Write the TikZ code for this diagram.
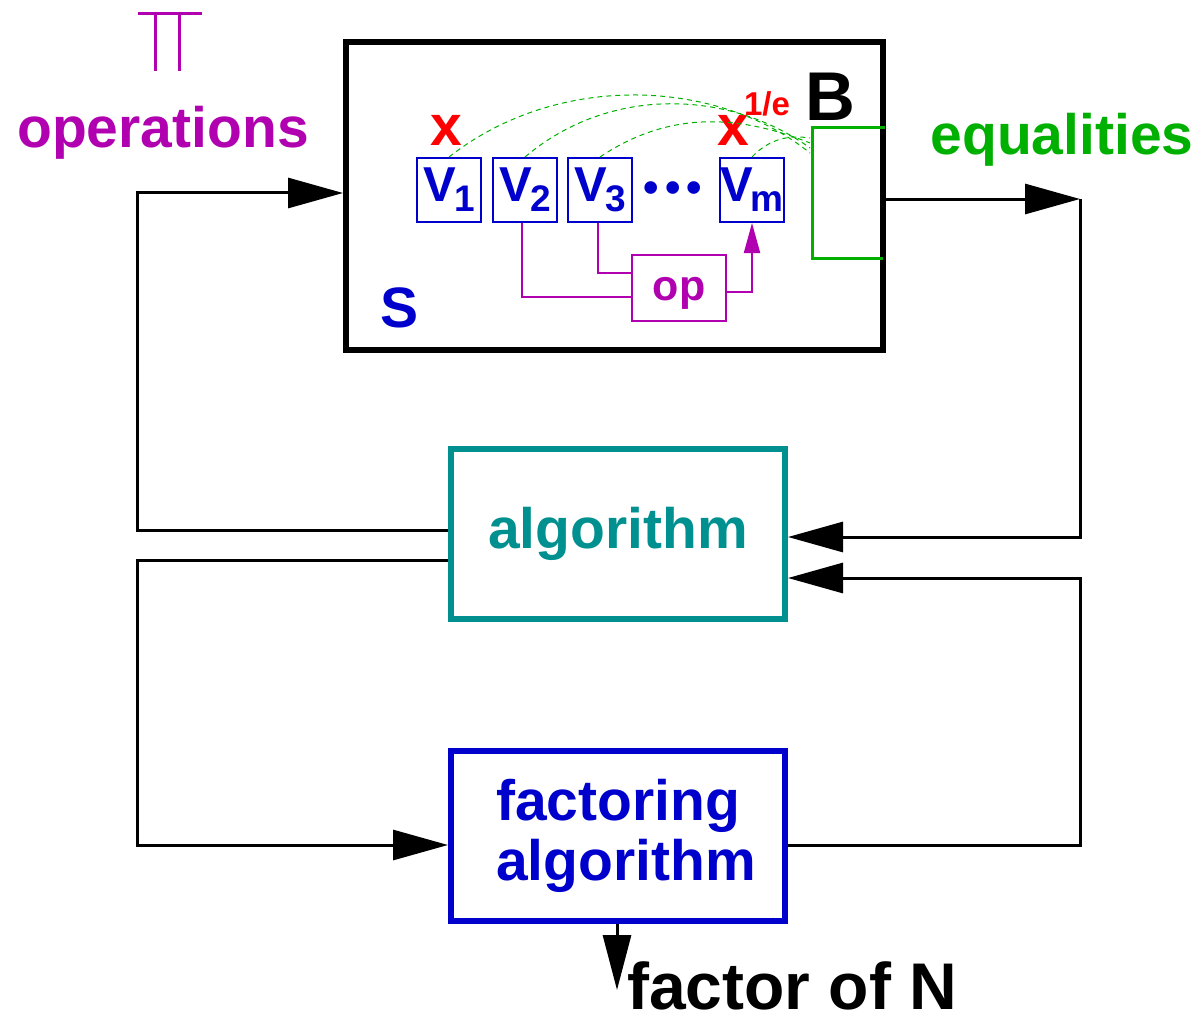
\documentclass[tikz,border=0pt]{standalone}
\usepackage{fontspec}
\setmainfont{Liberation Sans}
\usetikzlibrary{arrows.meta}
\definecolor{mag}{RGB}{176,0,176}
\definecolor{grn}{RGB}{0,176,0}
\definecolor{tealc}{RGB}{0,144,144}
\definecolor{blu}{RGB}{0,0,204}
\definecolor{rd}{RGB}{255,0,0}
\newcommand\fsz[1]{\fontsize{#1}{#1}\selectfont\bfseries}
\newcommand\Vsub[1]{{\fsz{49}V}\kern-2pt\raisebox{-10pt}{\fsz{37}#1}}
\begin{document}
\begin{tikzpicture}[x=1pt,y=-1pt,
  bigbox/.style={draw,line width=6pt,minimum width=334pt,minimum height=170pt,inner sep=0pt,align=center},
  vbox/.style={draw=blu,line width=2pt,minimum width=64pt,minimum height=64pt,inner sep=0pt,text=blu},
  conn/.style={line width=3pt},
  arr/.style={conn,-{Triangle[length=55pt,width=30pt]}},
  lbl/.style={inner sep=0pt,font=\fsz{57}},
  eqline/.style={grn,line width=1pt,dash pattern=on 5pt off 4pt}]
\useasboundingbox (0,0) rectangle (1201,1019);
% Pi symbol
\draw[mag,line width=3pt] (138,14) -- (202,14) (155,14) -- (155,71) (179,14) -- (179,71);
\node[lbl,text=mag] (ops) at (163,133) {operations};
\node[lbl,text=grn] (eqs) at (1062,140) {equalities};
% main box S
\node[draw,line width=6pt,minimum width=537pt,minimum height=308pt,inner sep=0pt] (S) at (614.5,196) {};
\node[inner sep=0pt,font=\fsz{69}] (Blbl) at (830,97) {B};
\node[lbl,text=blu] (Slbl) at (400,308) {S};
% V boxes
\node[vbox] (V1) at (449,190) {\Vsub{1}};
\node[vbox] (V2) at (525,190) {\Vsub{2}};
\node[vbox] (V3) at (600,190) {\Vsub{3}};
\node[vbox] (Vm) at (752,190) {\Vsub{m}};
\node[inner sep=0pt,text=blu,font=\fsz{44}] (dots) at (673,192) {•\hspace{6pt}•\hspace{6pt}•};
\node[lbl,text=rd] (x1) at (446,130) {x};
\node[lbl,text=rd] (x2) at (733,130) {x};
\node[inner sep=0pt,text=rd,font=\fsz{33}] (inv) at (767,104) {1/e};
% op box
\node[draw=mag,line width=2pt,minimum width=94pt,minimum height=66pt,inner sep=0pt,text=mag,font=\fsz{43}] (op) at (679,288) {};
\node[inner sep=0pt,text=mag,font=\fsz{43},anchor=base] (optxt) at (679,300) {op};
\draw[mag,line width=2pt] ([xshift=-3pt]V2.south) |- ([yshift=-9pt]op.west);
\draw[mag,line width=2pt] ([xshift=-2pt]V3.south) |- ([yshift=15pt]op.west);
\draw[mag,line width=2pt,-{Triangle[length=30pt,width=16pt]}] ([yshift=-4pt]op.east) -| (Vm.south);
% green bracket
\coordinate (b1) at (885,128);
\coordinate (b2) at (812,128);
\coordinate (b3) at (812,258);
\coordinate (b4) at (883,258);
\draw[grn,line width=3pt] (b1) -- (b2) -- (b3) -- (b4);
\coordinate (e1) at (810,153);
\coordinate (e2) at (810,148);
\coordinate (e3) at (810,143);
\coordinate (e4) at (810,138);
\draw[eqline] (V1.north) .. controls (560,70) and (720,80) .. (e1);
\draw[eqline] (V2.north) .. controls (610,85) and (730,90) .. (e2);
\draw[eqline] (V3.north) .. controls (670,110) and (740,115) .. (e3);
\draw[eqline] (Vm.north) .. controls (770,138) and (790,135) .. (e4);
% algorithm boxes
\node[bigbox,draw=tealc,text=tealc,font=\fsz{57}] (alg) at (618,534) {algorithm};
\node[bigbox,draw=blu,text=blu,font=\fontsize{57}{60}\selectfont\bfseries] (fac) at (618,836) {factoring\\\hspace*{16pt}algorithm};
% connectors
\coordinate (lx) at (137,0);
\coordinate (rx) at (1080,0);
\coordinate (Sin) at ([yshift=3pt]S.west);
\coordinate (Sout) at ([yshift=-3pt]S.east);
\coordinate (E1) at (rx |- Sout);
\coordinate (algR1) at ([yshift=-3pt]alg.east);
\coordinate (algR2) at ([yshift=-44pt]alg.east);
\coordinate (algL1) at ([yshift=4pt]alg.west);
\coordinate (algL2) at ([yshift=-26pt]alg.west);
\coordinate (facL) at ([yshift=-9pt]fac.west);
\coordinate (facR) at ([yshift=-9pt]fac.east);
\draw[arr] (algL1) -| (lx |- Sin) -- (Sin);
\draw[arr] (Sout) -- (E1);
\draw[arr] (E1) |- (algR1);
\draw[arr] (facR) -| (rx |- algR2) -- (algR2);
\draw[arr] (algL2) -| (lx |- facL) -- (facL);
\coordinate (out) at (617,990);
\draw[conn,-{Triangle[length=55pt,width=28pt]}] (fac.south -| out) -- (out);
\node[anchor=base west,inner sep=0pt,font=\fsz{66}] (fN) at (627,1009) {factor of N};
\end{tikzpicture}
\end{document}
